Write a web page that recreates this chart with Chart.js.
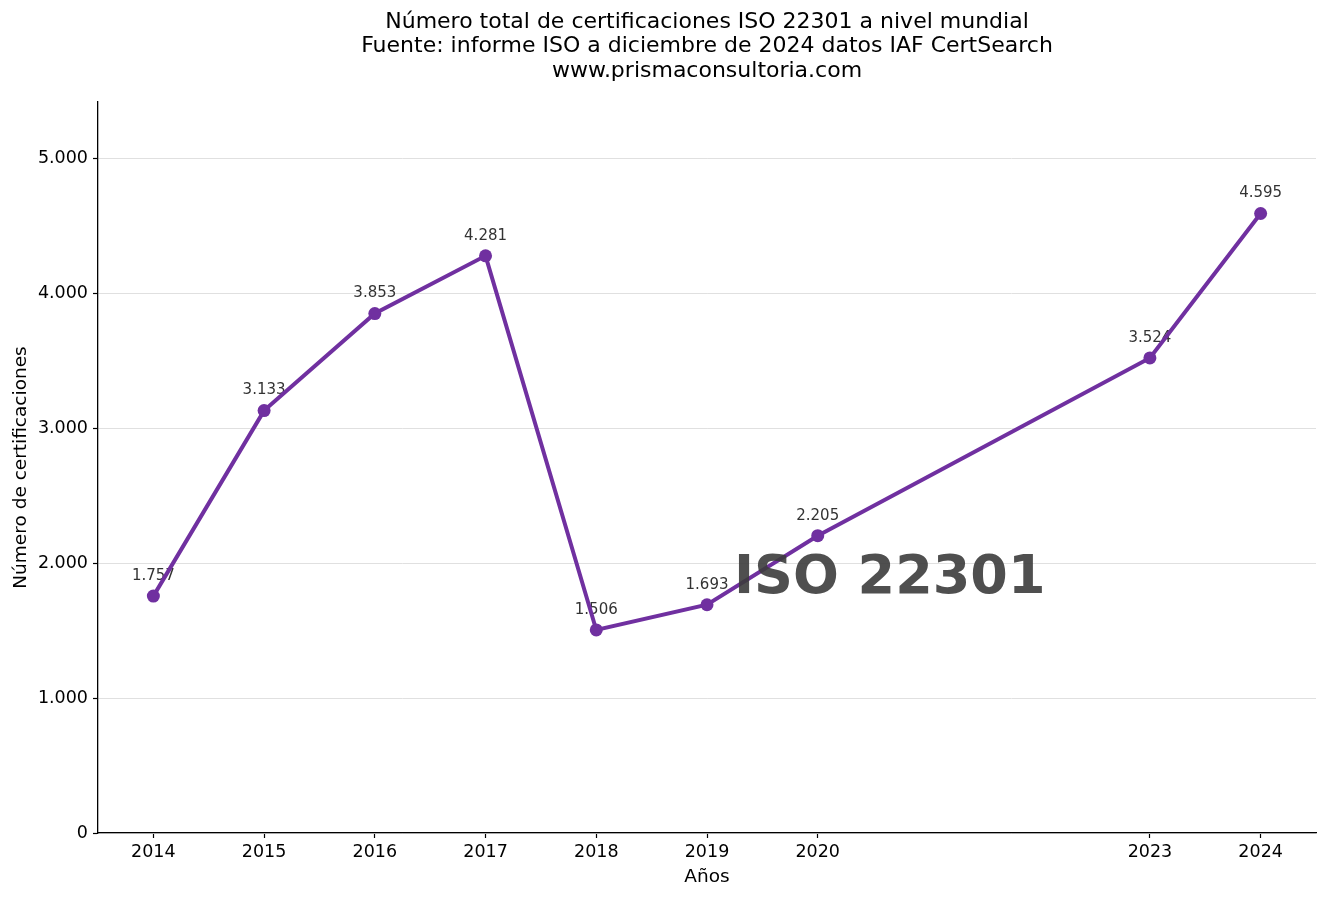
<!DOCTYPE html>
<html>
<head>
<meta charset="utf-8">
<script src="https://cdn.jsdelivr.net/npm/chart.js@4"></script>
<style>
html,body{margin:0;padding:0;background:#fff;}
#wrap{width:1328px;height:899px;}
</style>
</head>
<body>
<div id="wrap"><canvas id="c" width="1328" height="899"></canvas></div>
<script>
const years = [2014, 2015, 2016, 2017, 2018, 2019, 2020, 2023, 2024];
const certificaciones = [1757, 3133, 3853, 4281, 1506, 1693, 2205, 3524, 4595];
const yTicks = [0, 1000, 2000, 3000, 4000, 5000];
const titleLines = [
  'Número total de certificaciones ISO 22301 a nivel mundial',
  'Fuente: informe ISO a diciembre de 2024 datos IAF CertSearch',
  'www.prismaconsultoria.com'
];
const watermark = 'ISO 22301';
const FONT = "'DejaVu Sans', sans-serif";

function fmt(v){ return v.toLocaleString('de-DE'); }

const labelPlugin = {
  id: 'labels',
  beforeDatasetsDraw(chart){
    const ctx = chart.ctx;
    const meta = chart.getDatasetMeta(0);
    ctx.save();
    ctx.font = "15px " + FONT;
    ctx.fillStyle = '#333333';
    ctx.textAlign = 'center';
    ctx.textBaseline = 'middle';
    meta.data.forEach((pt, i) => {
      ctx.fillText(fmt(certificaciones[i]), pt.x, pt.y - 20);
    });
    ctx.restore();
  },
  afterDatasetsDraw(chart){
    const ctx = chart.ctx;
    const a = chart.chartArea;
    ctx.save();
    ctx.font = "bold 54px " + FONT;
    ctx.fillStyle = 'rgba(60,60,60,0.9)';
    ctx.textAlign = 'center';
    ctx.textBaseline = 'middle';
    ctx.fillText(watermark, a.left + 0.65 * (a.right - a.left), a.bottom - 0.35 * (a.bottom - a.top) + 2);
    ctx.restore();
  },
  afterDraw(chart){
    const ctx = chart.ctx;
    const a = chart.chartArea;
    ctx.save();
    ctx.font = "22px " + FONT;
    ctx.fillStyle = '#000';
    ctx.textAlign = 'center';
    ctx.textBaseline = 'middle';
    const cx = (a.left + a.right) / 2;
    titleLines.forEach((t, i) => ctx.fillText(t, cx, 22 + i * 24.5));
    ctx.restore();
  }
};

new Chart(document.getElementById('c'), {
  type: 'line',
  data: {
    datasets: [{
      data: years.map((y, i) => ({x: y, y: certificaciones[i]})),
      borderColor: '#7030A0',
      backgroundColor: '#7030A0',
      borderWidth: 4,
      pointRadius: 6.5,
      pointBackgroundColor: '#7030A0',
      pointBorderColor: '#7030A0',
      pointBorderWidth: 0,
      tension: 0,
      fill: false
    }]
  },
  options: {
    responsive: false,
    animation: false,
    devicePixelRatio: 1,
    layout: { padding: { left: 0, right: 12, top: 102, bottom: 0 } },
    plugins: {
      legend: { display: false },
      tooltip: { enabled: false },
      title: { display: false }
    },
    scales: {
      x: {
        type: 'linear',
        min: 2013.5,
        max: 2024.5,
        afterBuildTicks(scale){ scale.ticks = years.map(v => ({value: v})); },
        afterFit(scale){ scale.height = 66; },
        ticks: {
          color: '#000',
          font: { family: FONT, size: 17.5 },
          padding: 4,
          maxRotation: 0,
          autoSkip: false,
          callback: v => String(v)
        },
        grid: { drawOnChartArea: false, tickColor: '#000', tickLength: 5, tickWidth: 1.2 },
        border: { color: '#000', width: 1.3 },
        title: {
          display: true, text: 'Años', color: '#000',
          font: { family: FONT, size: 18.5 }, padding: { top: 0, bottom: 11 }
        }
      },
      y: {
        type: 'linear',
        min: 0,
        max: 5422,
        afterBuildTicks(scale){ scale.ticks = yTicks.map(v => ({value: v})); },
        afterFit(scale){ scale.width = 98; },
        ticks: {
          color: '#000',
          font: { family: FONT, size: 17.5 },
          padding: 5,
          callback: v => fmt(v)
        },
        grid: { color: '#e0e0e0', lineWidth: 1, tickColor: '#000', tickLength: 5, tickWidth: 1.2 },
        border: { color: '#000', width: 1.3 },
        title: {
          display: true, text: 'Número de certificaciones', color: '#000',
          font: { family: FONT, size: 18.5 }, padding: { top: 10, bottom: 0 }
        }
      }
    }
  },
  plugins: [labelPlugin]
});
</script>
</body>
</html>
